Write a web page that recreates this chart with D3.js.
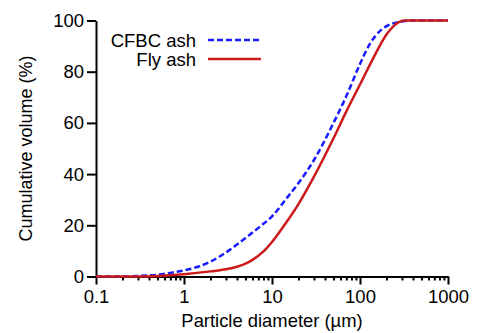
<html>
<head>
<style>
body { margin: 0; background: #fff; }
text { font-family: "Liberation Sans", Arial, sans-serif; fill: #000; }
.axis path, .axis line { stroke: #000; stroke-width: 2px; }
</style>
</head>
<body>
<svg width="477" height="333"></svg>
<script src="https://d3js.org/d3.v7.min.js"></script>
<script>
// particle diameter (um) and cumulative volume (%)
const cfbcDiameter = [0.1, 0.2, 0.3, 0.5, 0.7, 1, 1.5, 2, 3, 4, 5, 7, 10, 15, 20, 30, 50, 70, 100, 130, 150, 200, 300, 400, 1000]
const cfbcAsh      = [0, 0, 0.2, 0.7, 1.4, 2.4, 4.0, 5.8, 9.4, 12.5, 15.0, 19.0, 23.5, 31, 36.5, 45.5, 60, 70.5, 83, 91, 94, 97.8, 99.6, 100, 100]
const flyDiameter  = [0.1, 0.3, 0.5, 1, 2, 3, 4, 5, 6, 8, 10, 15, 20, 30, 50, 70, 100, 150, 200, 250, 320, 1000]
const flyAsh       = [0, 0, 0.2, 0.9, 2.0, 2.8, 3.8, 5.0, 6.5, 9.8, 13.5, 21.8, 28.3, 39.0, 54, 64.5, 75, 87, 94.5, 98.3, 100, 100]
const xTicks = [0.1, 1, 10, 100, 1000]
const yTicks = [0, 20, 40, 60, 80, 100]
const seriesNames = ['CFBC ash', 'Fly ash']

const margin = {left: 96, top: 20.5}
const width = 352, height = 256

const svg = d3.select('svg')
const g = svg.append('g').attr('transform', `translate(${margin.left},${margin.top})`)

const x = d3.scaleLog().domain([0.1, 1000]).range([0, width])
const y = d3.scaleLinear().domain([0, 100]).range([height, 0])

// minor ticks on x
const minor = []
for (let e = -1; e < 3; e++) {
    for (let m = 2; m <= 9; m++) minor.push(m * Math.pow(10, e))
}

g.append('g').attr('class', 'axis')
    .attr('transform', `translate(0,${height})`)
    .call(d3.axisBottom(x).tickValues(minor).tickSize(4).tickFormat(''))
    .call(a => a.select('.domain').remove())

g.append('g').attr('class', 'axis')
    .attr('transform', `translate(0,${height})`)
    .call(d3.axisBottom(x).tickValues(xTicks).tickSizeInner(8).tickSizeOuter(0).tickPadding(5)
        .tickFormat(d => d3.format('~g')(d)))
    .selectAll('text').style('font-size', '18.5px')

g.append('g').attr('class', 'axis')
    .call(d3.axisLeft(y).tickValues(yTicks).tickSizeInner(9).tickSizeOuter(0).tickPadding(3))
    .selectAll('text').style('font-size', '18.5px')

const line = d3.line()
    .x(d => x(d[0]))
    .y(d => y(d[1]))
    .curve(d3.curveMonotoneX)

g.append('path')
    .datum(cfbcDiameter.map((d, i) => [d, cfbcAsh[i]]))
    .attr('d', line)
    .attr('fill', 'none')
    .attr('stroke', '#1a1aff')
    .attr('stroke-width', 2.5)
    .attr('stroke-dasharray', '6,3')

g.append('path')
    .datum(flyDiameter.map((d, i) => [d, flyAsh[i]]))
    .attr('d', line)
    .attr('fill', 'none')
    .attr('stroke', '#cc1a1a')
    .attr('stroke-width', 2.5)

// legend
const legend = svg.append('g')
const styles = [{c: '#1a1aff', dash: '6,3'}, {c: '#cc1a1a', dash: null}]
seriesNames.forEach((name, i) => {
    const ly = 40 + i * 19
    legend.append('text').attr('x', 196).attr('y', ly + 6.5)
        .attr('text-anchor', 'end').style('font-size', '18.5px').text(name)
    legend.append('line').attr('x1', 208).attr('x2', 261).attr('y1', ly).attr('y2', ly)
        .attr('stroke', styles[i].c).attr('stroke-width', 2.5)
        .attr('stroke-dasharray', styles[i].dash)
})

svg.append('text')
    .attr('x', margin.left + width / 2).attr('y', 327)
    .attr('text-anchor', 'middle').style('font-size', '18.4px')
    .text('Particle diameter (\u00b5m)')

svg.append('text')
    .attr('transform', `translate(32,${margin.top + height / 2}) rotate(-90)`)
    .attr('text-anchor', 'middle').style('font-size', '18px')
    .text('Cumulative volume (%)')
</script>
</body>
</html>
